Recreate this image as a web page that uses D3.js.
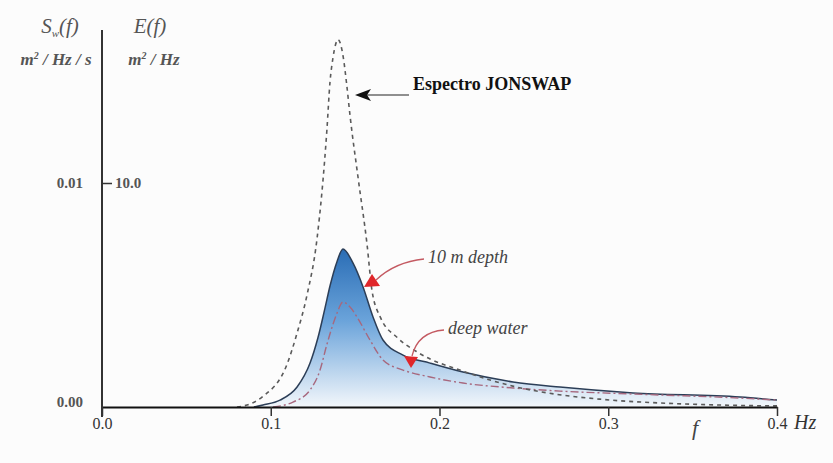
<!DOCTYPE html>
<html>
<head>
<meta charset="utf-8">
<script src="https://cdn.jsdelivr.net/npm/d3@7"></script>
<style>
  body { margin: 0; background: #fcfcfc; }
  svg { display: block; }
  svg text { font-family: "Liberation Serif", "Times New Roman", Times, "DejaVu Serif", serif !important; }
</style>
</head>
<body>
<svg id="chart" width="833" height="463"></svg>
<script>
// JONSWAP spectrum (dashed), E(f) in m2/Hz
var jonF = [0.080, 0.086, 0.095, 0.1096, 0.1156, 0.1215, 0.1274, 0.1333, 0.1351, 0.1369, 0.1399, 0.143, 0.145, 0.147, 0.152, 0.157, 0.160, 0.165, 0.175, 0.188, 0.214, 0.244, 0.271, 0.295, 0.340, 0.378, 0.400];
var jonE = [0.0, 0.09, 0.45, 1.9, 3.3, 5.0, 7.5, 12.4, 14.5, 15.6, 16.4, 15.6, 14.4, 13.0, 10.1, 7.3, 5.2, 4.0, 3.1, 2.4, 1.6, 0.92, 0.55, 0.35, 0.15, 0.07, 0.05];

// 10 m depth (blue filled)
var depthF = [0.090, 0.0954, 0.1055, 0.1156, 0.1233, 0.128, 0.1321, 0.1351, 0.1393, 0.1428, 0.1487, 0.1547, 0.1606, 0.1665, 0.1784, 0.1944, 0.2139, 0.2436, 0.2714, 0.3147, 0.3781, 0.400];
var depthE = [0.0, 0.09, 0.31, 0.89, 1.96, 3.1, 4.4, 5.4, 6.5, 7.05, 6.43, 5.36, 4.02, 2.99, 2.32, 1.96, 1.56, 1.12, 0.89, 0.63, 0.45, 0.31];

// deep water (dash-dot)
var deepF = [0.1013, 0.1132, 0.1233, 0.1292, 0.1333, 0.1369, 0.1393, 0.1428, 0.147, 0.1511, 0.1588, 0.1665, 0.1784, 0.1944, 0.2139, 0.2436, 0.2714, 0.3147, 0.3781, 0.400];
var deepE = [0.0, 0.22, 0.76, 1.65, 2.8, 3.7, 4.2, 4.69, 4.46, 4.02, 2.99, 2.10, 1.65, 1.34, 1.07, 0.85, 0.71, 0.58, 0.40, 0.31];

var xTicks = [0.0, 0.1, 0.2, 0.3, 0.4];
var eTicks = [10.0];
var sTicks = [0.00, 0.01];

var serif = "'Liberation Serif', 'Times New Roman', Times, 'DejaVu Serif', serif";

var svg = d3.select("#chart");

var x = d3.scaleLinear().domain([0, 0.4]).range([102, 777]);
var y = d3.scaleLinear().domain([0, 10]).range([407, 183]);
var yS = d3.scaleLinear().domain([0, 0.01]).range([407, 183]);

function pts(fs, es) {
  return fs.map(function(f, i) { return {f: f, e: es[i]}; });
}

// gradient for the 10 m depth area
var grad = svg.append("defs").append("linearGradient")
  .attr("id", "blueFill")
  .attr("gradientUnits", "userSpaceOnUse")
  .attr("x1", 0).attr("x2", 0)
  .attr("y1", y(7.05)).attr("y2", y(0));
grad.append("stop").attr("offset", "0%").attr("stop-color", "#2a6db5");
grad.append("stop").attr("offset", "45%").attr("stop-color", "#6aa3da");
grad.append("stop").attr("offset", "100%").attr("stop-color", "#f3f7fb");

var line = d3.line()
  .x(function(d) { return x(d.f); })
  .y(function(d) { return y(d.e); })
  .curve(d3.curveMonotoneX);

var area = d3.area()
  .x(function(d) { return x(d.f); })
  .y0(y(0))
  .y1(function(d) { return y(d.e); })
  .curve(d3.curveMonotoneX);

// 10 m depth filled
svg.append("path")
  .datum(pts(depthF, depthE))
  .attr("d", area)
  .attr("fill", "url(#blueFill)");

svg.append("path")
  .datum(pts(depthF, depthE))
  .attr("d", line)
  .attr("fill", "none")
  .attr("stroke", "#2c3e57")
  .attr("stroke-width", 1.5);

// deep water
svg.append("path")
  .datum(pts(deepF, deepE))
  .attr("d", line)
  .attr("fill", "none")
  .attr("stroke", "#a7687e")
  .attr("stroke-width", 1.4)
  .attr("stroke-dasharray", "8,3,2,3");

// JONSWAP
svg.append("path")
  .datum(pts(jonF, jonE))
  .attr("d", line)
  .attr("fill", "none")
  .attr("stroke", "#5a5a5a")
  .attr("stroke-width", 1.6)
  .attr("stroke-dasharray", "4,4");

// x axis
var xAxis = svg.append("g")
  .attr("transform", "translate(0," + y(0) + ")")
  .call(d3.axisBottom(x).tickValues(xTicks).tickFormat(d3.format(".1f")).tickSize(9).tickSizeOuter(0));
xAxis.attr("font-family", serif);
xAxis.select(".domain").attr("stroke", "#111").attr("stroke-width", 2);
xAxis.selectAll(".tick line").attr("stroke", "#333").attr("stroke-width", 1.5);
xAxis.selectAll(".tick text")
  .style("font-family", serif)
  .attr("font-size", 16)
  .attr("fill", "#333")
  .attr("dy", "0.6em");

// vertical axis line
svg.append("line")
  .attr("x1", x(0)).attr("x2", x(0))
  .attr("y1", 30).attr("y2", 417)
  .attr("stroke", "#333")
  .attr("stroke-width", 2);

// E(f) tick on the right side of axis
var eAxis = svg.append("g")
  .attr("transform", "translate(" + x(0) + ",0)")
  .call(d3.axisRight(y).tickValues(eTicks).tickFormat(d3.format(".1f")).tickSize(10).tickPadding(3));
eAxis.attr("font-family", serif);
eAxis.select(".domain").remove();
eAxis.selectAll(".tick line").attr("stroke", "#333").attr("stroke-width", 1.5);
eAxis.selectAll(".tick text")
  .style("font-family", serif)
  .attr("font-weight", "bold")
  .attr("font-size", 15)
  .attr("fill", "#555");

// S(f) labels on the left
var sAxis = svg.append("g")
  .attr("transform", "translate(" + (x(0) - 16) + ",0)")
  .call(d3.axisLeft(yS).tickValues(sTicks).tickFormat(d3.format(".2f")).tickSize(0));
sAxis.attr("font-family", serif);
sAxis.select(".domain").remove();
sAxis.selectAll(".tick text")
  .style("font-family", serif)
  .attr("font-weight", "bold")
  .attr("font-size", 15)
  .attr("fill", "#555")
  .attr("dy", function(d) { return d === 0 ? "-0.05em" : "0.32em"; });

// header labels
var hdr = svg.append("g")
  .attr("font-style", "italic")
  .attr("fill", "#555")
  .attr("text-anchor", "middle");

var s1 = hdr.append("text").attr("x", 60).attr("y", 33).attr("font-size", 21);
s1.append("tspan").text("S");
s1.append("tspan").attr("font-size", 11).attr("dy", 4).text("w");
s1.append("tspan").attr("dy", -4).text("(f)");

hdr.append("text").attr("x", 150).attr("y", 33).attr("font-size", 21).text("E(f)");

var u1 = hdr.append("text").attr("x", 56).attr("y", 65).attr("font-size", 17).attr("font-weight", "bold");
u1.append("tspan").text("m");
u1.append("tspan").attr("font-size", 10).attr("dy", -6).text("2");
u1.append("tspan").attr("dy", 6).text(" / Hz / s");

var u2 = hdr.append("text").attr("x", 154).attr("y", 65).attr("font-size", 17).attr("font-weight", "bold");
u2.append("tspan").text("m");
u2.append("tspan").attr("font-size", 10).attr("dy", -6).text("2");
u2.append("tspan").attr("dy", 6).text(" / Hz");

// f and Hz on the x axis
svg.append("text").attr("x", 695).attr("y", 435)
  .attr("font-style", "italic").attr("font-size", 22).attr("fill", "#444")
  .attr("text-anchor", "middle").text("f");
svg.append("text").attr("x", 794).attr("y", 429)
  .attr("font-style", "italic").attr("font-size", 20).attr("fill", "#333")
  .text("Hz");

// JONSWAP label with black arrow
svg.append("text").attr("x", 413).attr("y", 90)
  .attr("font-weight", "bold").attr("font-size", 18).attr("fill", "#111")
  .text("Espectro JONSWAP");
svg.append("line")
  .attr("x1", 409).attr("x2", 366)
  .attr("y1", 95).attr("y2", 95)
  .attr("stroke", "#222").attr("stroke-width", 1.2);
svg.append("path")
  .attr("d", "M355,95 L371,89 L367,95 L371,101 Z")
  .attr("fill", "#111");

// red annotations
svg.append("text").attr("x", 428).attr("y", 263)
  .attr("font-style", "italic").attr("font-size", 18).attr("fill", "#444")
  .text("10 m depth");
svg.append("path")
  .attr("d", "M424,259 Q395,262 376,280")
  .attr("fill", "none").attr("stroke", "#c45a62").attr("stroke-width", 1.3);
svg.append("path")
  .attr("d", "M364,287 L372,274 L380,286 Z")
  .attr("fill", "#e0262a");

svg.append("text").attr("x", 448).attr("y", 334)
  .attr("font-style", "italic").attr("font-size", 18).attr("fill", "#444")
  .text("deep water");
svg.append("path")
  .attr("d", "M444,330 Q418,332 412,356")
  .attr("fill", "none").attr("stroke", "#c45a62").attr("stroke-width", 1.3);
svg.append("path")
  .attr("d", "M411,368 L404,356 L418,357 Z")
  .attr("fill", "#e0262a");
</script>
</body>
</html>
